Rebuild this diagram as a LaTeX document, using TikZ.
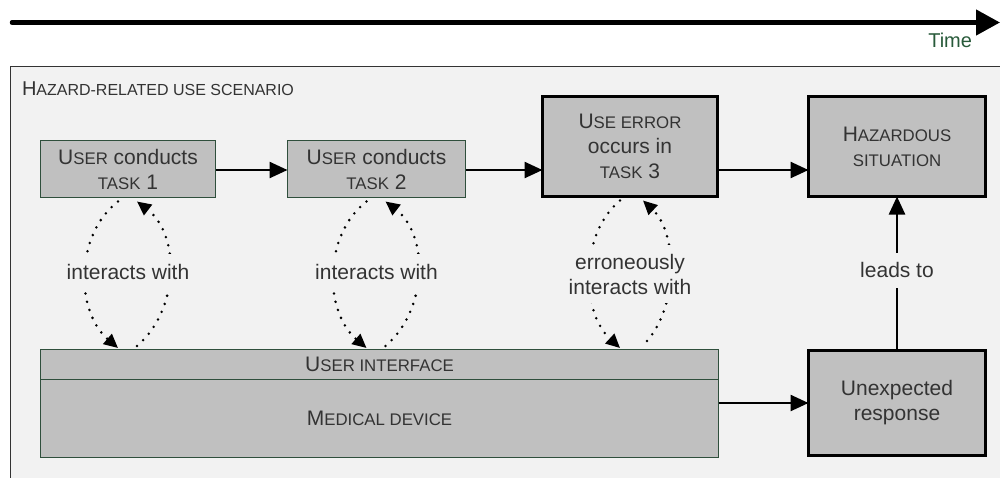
\documentclass[tikz,border=0pt]{standalone}
\usepackage{fontspec}
\setmainfont{Liberation Sans}
\usetikzlibrary{arrows.meta,calc}

\definecolor{bg}{RGB}{242,242,242}
\definecolor{boxfill}{RGB}{192,192,192}
\definecolor{ink}{RGB}{51,51,51}
\definecolor{edge}{RGB}{47,79,60}
\definecolor{timegreen}{RGB}{40,90,58}

% small capitals faked with a smaller upper-case size
\newcommand\sck[1]{{\fontsize{16.8}{25}\selectfont #1}}

\begin{document}
\begin{tikzpicture}[x=1pt,y=-1pt,
  every node/.style={text=ink, font=\fontsize{21}{25}\selectfont, inner sep=0pt, outer sep=0pt},
  thinbox/.style={draw=edge, line width=1pt, fill=boxfill, align=center},
  thickbox/.style={draw=black, line width=3pt, fill=boxfill, align=center},
  flow/.style={draw=black, line width=2.5pt, -{Triangle[length=18pt,width=16pt]}},
  dotlink/.style={draw=black, line width=2.8pt, line cap=round,
    dash pattern=on 0pt off 8.5pt, -{Triangle[length=14pt,width=13pt]}},
  lbl/.style={fill=bg, inner xsep=3pt, inner ysep=10pt, align=center}
]
\useasboundingbox (0,0) rectangle (1000,477);
\clip (0,0) rectangle (1000,477);

% time axis
\coordinate (ts) at (12,22.5);
\coordinate (te) at (1000,22.5);
\draw[line width=4.5pt, line cap=round, -{Triangle[length=24pt,width=25pt]}] (ts) -- (te);
\node[anchor=base east, text=timegreen, font=\fontsize{20}{24}\selectfont] (time) at (972,47) {Time};

% scenario frame
\node[draw=ink, line width=1pt, fill=bg, anchor=north west,
      minimum width=1000pt, minimum height=430pt] (scen) at (10,66) {};
\node[anchor=base west, font=\fontsize{20}{24}\selectfont] (title) at (22,95.5)
  {H{\fontsize{16}{24}\selectfont AZARD-RELATED USE SCENARIO}};

% task sequence
\node[thinbox, minimum width=175pt, minimum height=57pt] (t1) at (128,169)
  {U\sck{SER} conducts\\\sck{TASK} 1};
\node[thinbox, minimum width=178pt, minimum height=57pt] (t2) at (376.5,169)
  {U\sck{SER} conducts\\\sck{TASK} 2};
\node[thickbox, minimum width=175pt, minimum height=100pt] (t3) at (630,146.5)
  {U\sck{SE ERROR}\\occurs in\\\sck{TASK} 3};
\node[thickbox, minimum width=177pt, minimum height=100pt] (t4) at (897,146.5)
  {H\sck{AZARDOUS}\\\sck{SITUATION}};

% device
\node[thinbox, minimum width=678pt, minimum height=30pt] (ui) at (379.5,364)
  {U\sck{SER INTERFACE}};
\node[thinbox, minimum width=678pt, minimum height=78pt] (md) at (379.5,418)
  {M\sck{EDICAL DEVICE}};
\node[thickbox, minimum width=177pt, minimum height=105pt] (ur) at (897,403)
  {Unexpected\\response};

% flow arrows
\draw[flow] (t1.east |- 0,170) -- (t2.west |- 0,170);
\draw[flow] (t2.east |- 0,170) -- (t3.west |- 0,170);
\draw[flow] (t3.east |- 0,170) -- (t4.west |- 0,170);
\draw[flow] (md.east |- ur.west) -- (ur.west);
\draw[flow] (ur.north) -- node[lbl, pos=0.52] (lead) {leads to} (t4.south);

% interaction loops
\draw[dotlink] ($(t1.south)+(-10,4)$) .. controls +(-43,33) and +(-43,-37) .. ($(t1.south |- ui.north)+(-10,-1)$);
\draw[dotlink] ($(t1.south |- ui.north)+(9,-3)$) .. controls +(43,-37) and +(43,33) .. ($(t1.south)+(9,4)$);
\draw[dotlink] ($(t2.south)+(-10,4)$) .. controls +(-43,33) and +(-43,-37) .. ($(t2.south |- ui.north)+(-10,-1)$);
\draw[dotlink] ($(t2.south |- ui.north)+(9,-3)$) .. controls +(43,-37) and +(43,33) .. ($(t2.south)+(9,4)$);
\draw[dotlink] ($(t3.south)+(-10,4)$) .. controls +(-40,33) and +(-40,-37) .. ($(t3.south |- ui.north)+(-10,-1)$);
\draw[dotlink] ($(t3.south |- ui.north)+(17,-8)$) .. controls +(31,-35) and +(35,33) .. ($(t3.south)+(13,4)$);

\node[lbl] (i1) at (128,272) {interacts with};
\node[lbl] (i2) at (376.5,272) {interacts with};
\node[lbl, inner ysep=9pt] (i3) at (630,274) {erroneously\\interacts with};
\end{tikzpicture}
\end{document}
